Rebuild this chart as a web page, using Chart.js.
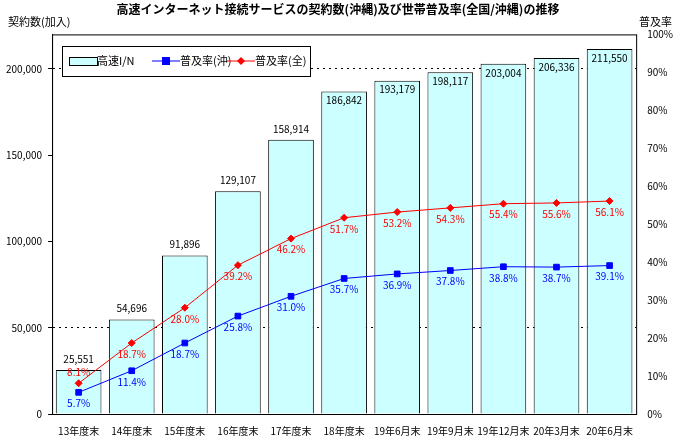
<!DOCTYPE html><html><head><meta charset="utf-8"><script src="https://cdn.jsdelivr.net/npm/chart.js@4"></script>
<style>body{margin:0;background:#fff}#w{width:680px;height:440px}</style></head><body><div id="w"><canvas id="c" width="680" height="440"></canvas></div>
<script>
const categories=["13年度末","14年度末","15年度末","16年度末","17年度末","18年度末","19年6月末","19年9月末","19年12月末","20年3月末","20年6月末"];
const contracts=[25551,54696,91896,129107,158914,186842,193179,198117,203004,206336,211550];
const rateOkinawa=[5.7,11.4,18.7,25.8,31.0,35.7,36.9,37.8,38.8,38.7,39.1];
const rateNation=[8.1,18.7,28.0,39.2,46.2,51.7,53.2,54.3,55.4,55.6,56.1];
const leftTicks=[0,50000,100000,150000,200000];
const F="'MS PGothic','Noto Sans CJK JP',sans-serif";
const labels={id:'lbl',afterDatasetsDraw(ch){const x=ch.ctx;x.save();x.font="10px "+F;x.textAlign='center';
 ch.getDatasetMeta(0).data.forEach((b,i)=>{x.fillStyle='#000';if(b.y<110){x.textBaseline='top';x.fillText(contracts[i].toLocaleString('en-US'),b.x,b.y+4);}else{x.textBaseline='bottom';x.fillText(contracts[i].toLocaleString('en-US'),b.x,b.y-6);}});
 [[1,rateOkinawa,'#0000ff'],[2,rateNation,'#ff0000']].forEach(([d,v,c])=>{ch.getDatasetMeta(d).data.forEach((p,i)=>{x.fillStyle=c;if(d===2&&i===0){x.textBaseline='bottom';x.fillText(v[i].toFixed(1)+'%',p.x,p.y-6);}else{x.textBaseline='top';x.fillText(v[i].toFixed(1)+'%',p.x,p.y+6);}});});
 const L=62,T=46;x.fillStyle='#fff';x.fillRect(L,T,248,30);x.strokeStyle='#000';x.lineWidth=1;x.strokeRect(L+.5,T+.5,248,30);
 x.textAlign='left';x.textBaseline='middle';x.font="11px "+F;const cy=T+15;
 x.fillStyle='#ccffff';x.fillRect(L+7,cy-4,28,8);x.strokeRect(L+7.5,cy-3.5,28,8);x.fillStyle='#000';x.fillText('高速I/N',L+35,cy);
 x.strokeStyle='#00f';x.beginPath();x.moveTo(L+90,cy);x.lineTo(L+118,cy);x.stroke();x.fillStyle='#00f';x.fillRect(L+100,cy-4,8,8);x.fillStyle='#000';x.fillText('普及率(沖)',L+118,cy);
 x.strokeStyle='#f00';x.beginPath();x.moveTo(L+165,cy);x.lineTo(L+193,cy);x.stroke();x.fillStyle='#f00';x.beginPath();x.moveTo(L+179,cy-4);x.lineTo(L+183,cy);x.lineTo(L+179,cy+4);x.lineTo(L+175,cy);x.fill();x.fillStyle='#000';x.fillText('普及率(全)',L+193,cy);
 x.textAlign='left';x.fillText('契約数(加入)',8,22);x.textAlign='right';x.fillText('普及率',672,22);
 const a=ch.chartArea;x.strokeStyle='#000';x.strokeRect(a.left+.5,a.top+.5,a.right-a.left,a.bottom-a.top);
 x.restore();}};
new Chart(document.getElementById('c'),{data:{labels:categories,datasets:[
 {type:'bar',data:contracts,yAxisID:'y',backgroundColor:'#ccffff',borderColor:'#000',borderWidth:1,categoryPercentage:1,barPercentage:0.86,order:3},
 {type:'line',data:rateOkinawa,yAxisID:'y2',borderColor:'#0000ff',backgroundColor:'#0000ff',borderWidth:1,pointStyle:'rect',pointRadius:4,order:1},
 {type:'line',data:rateNation,yAxisID:'y2',borderColor:'#ff0000',backgroundColor:'#ff0000',borderWidth:1,pointStyle:'rectRot',pointRadius:3.5,order:2}]},
 options:{responsive:false,animation:false,layout:{padding:{top:0,left:0,right:4,bottom:0}},
 plugins:{legend:{display:false},tooltip:{enabled:false},title:{display:true,text:'高速インターネット接続サービスの契約数(沖縄)及び世帯普及率(全国/沖縄)の推移',font:{family:F,size:12,weight:'bold'},color:'#000',padding:{top:2,bottom:18}}},
 scales:{x:{grid:{display:false},border:{color:'#000'},ticks:{color:'#000',font:{family:F,size:10},maxRotation:0,autoSkip:false}},
 y:{min:0,max:220000,afterBuildTicks:s=>{s.ticks=leftTicks.map(v=>({value:v}))},grid:{color:c=>(c.tick&&(c.tick.value===50000||c.tick.value===200000))?'#000':'rgba(0,0,0,0)',tickLength:4,tickColor:'#000'},border:{color:'#000',dash:[2,4]},ticks:{color:'#000',font:{family:F,size:10},callback:v=>v.toLocaleString('en-US'),padding:6}},
 y2:{position:'right',min:0,max:100,grid:{display:false},ticks:{stepSize:10,color:'#000',font:{family:F,size:10},callback:v=>v+'%'}}}},
 plugins:[labels]});
</script></body></html>
